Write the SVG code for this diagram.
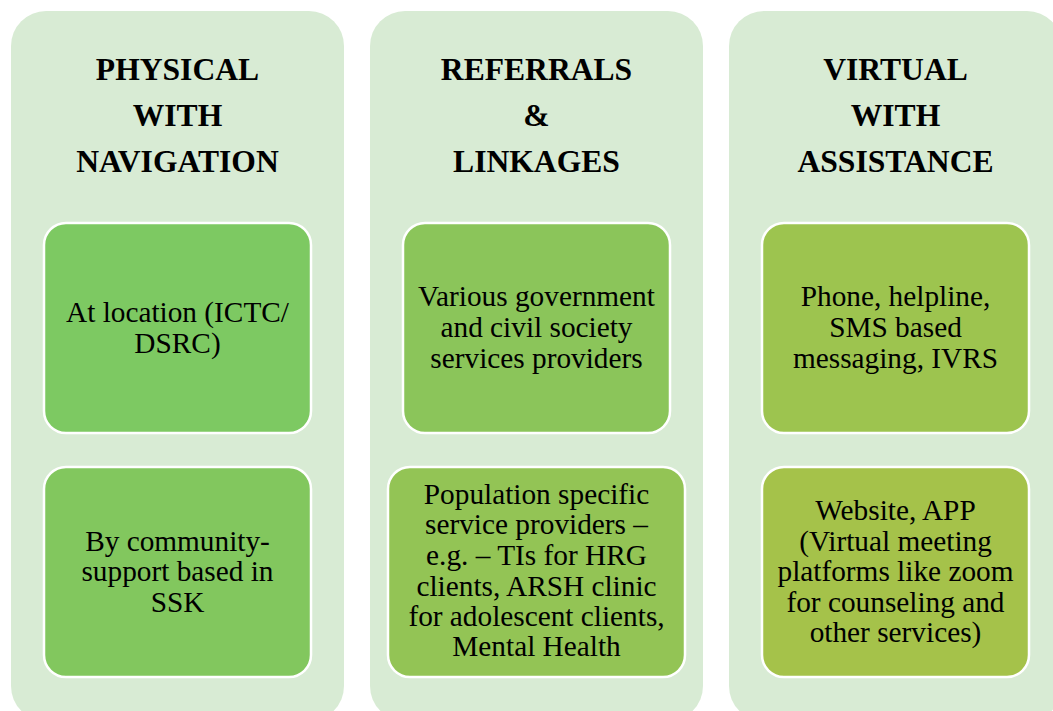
<svg xmlns="http://www.w3.org/2000/svg" width="1053" height="711" viewBox="0 0 1053 711">
<style>
.col{fill:#D8EBD4}
.box{stroke:#FFFFFF;stroke-width:2.5}
.hd{font-family:"Liberation Serif","Times New Roman",serif;font-weight:bold;font-size:31.6px;fill:#000;text-anchor:middle}
.tx{font-family:"Liberation Serif","Times New Roman",serif;font-size:29.3px;fill:#000;text-anchor:middle}
</style>
<rect width="1053" height="711" fill="#FFFFFF"/>
<g id="col1">
<rect class="col" x="11" y="11" width="333" height="710" rx="35"/>
<text class="hd" x="177.5" y="80">PHYSICAL</text>
<text class="hd" x="177.5" y="126">WITH</text>
<text class="hd" x="177.5" y="172">NAVIGATION</text>
</g>
<g id="col2">
<rect class="col" x="370" y="11" width="333" height="710" rx="35"/>
<text class="hd" x="536.5" y="80">REFERRALS</text>
<text class="hd" x="536.5" y="126">&amp;</text>
<text class="hd" x="536.5" y="172">LINKAGES</text>
</g>
<g id="col3">
<rect class="col" x="729" y="11" width="333" height="710" rx="35"/>
<text class="hd" x="895.5" y="80">VIRTUAL</text>
<text class="hd" x="895.5" y="126">WITH</text>
<text class="hd" x="895.5" y="172">ASSISTANCE</text>
</g>
<g id="n1">
<rect class="box" x="44" y="223" width="267" height="210" rx="22" fill="#7DC962"/>
<text class="tx" x="177.5" y="322">At location (ICTC/</text>
<text class="tx" x="177.5" y="353">DSRC)</text>
</g>
<g id="n2">
<rect class="box" x="44" y="467" width="267" height="210" rx="22" fill="#82C75E"/>
<text class="tx" x="177.5" y="551">By community-</text>
<text class="tx" x="177.5" y="581">support based in</text>
<text class="tx" x="177.5" y="612">SSK</text>
</g>
<g id="n3">
<rect class="box" x="403" y="223" width="267" height="210" rx="22" fill="#8BC55A"/>
<text class="tx" x="536.5" y="306">Various government</text>
<text class="tx" x="536.5" y="337">and civil society</text>
<text class="tx" x="536.5" y="368">services providers</text>
</g>
<g id="n4">
<rect class="box" x="388" y="467" width="297" height="210" rx="22" fill="#93C455"/>
<text class="tx" x="536.5" y="504">Population specific</text>
<text class="tx" x="536.5" y="534">service providers –</text>
<text class="tx" x="536.5" y="565">e.g. – TIs for HRG</text>
<text class="tx" x="536.5" y="596">clients, ARSH clinic</text>
<text class="tx" x="536.5" y="626">for adolescent clients,</text>
<text class="tx" x="536.5" y="656">Mental Health</text>
</g>
<g id="n5">
<rect class="box" x="762" y="223" width="267" height="210" rx="22" fill="#9DC44F"/>
<text class="tx" x="895.5" y="306">Phone, helpline,</text>
<text class="tx" x="895.5" y="337">SMS based</text>
<text class="tx" x="895.5" y="368">messaging, IVRS</text>
</g>
<g id="n6">
<rect class="box" x="762" y="467" width="267" height="210" rx="22" fill="#A5C24A"/>
<text class="tx" x="895.5" y="520">Website, APP</text>
<text class="tx" x="895.5" y="551">(Virtual meeting</text>
<text class="tx" x="895.5" y="581">platforms like zoom</text>
<text class="tx" x="895.5" y="612">for counseling and</text>
<text class="tx" x="895.5" y="642">other services)</text>
</g>
<g id="connectors"></g>
</svg>
